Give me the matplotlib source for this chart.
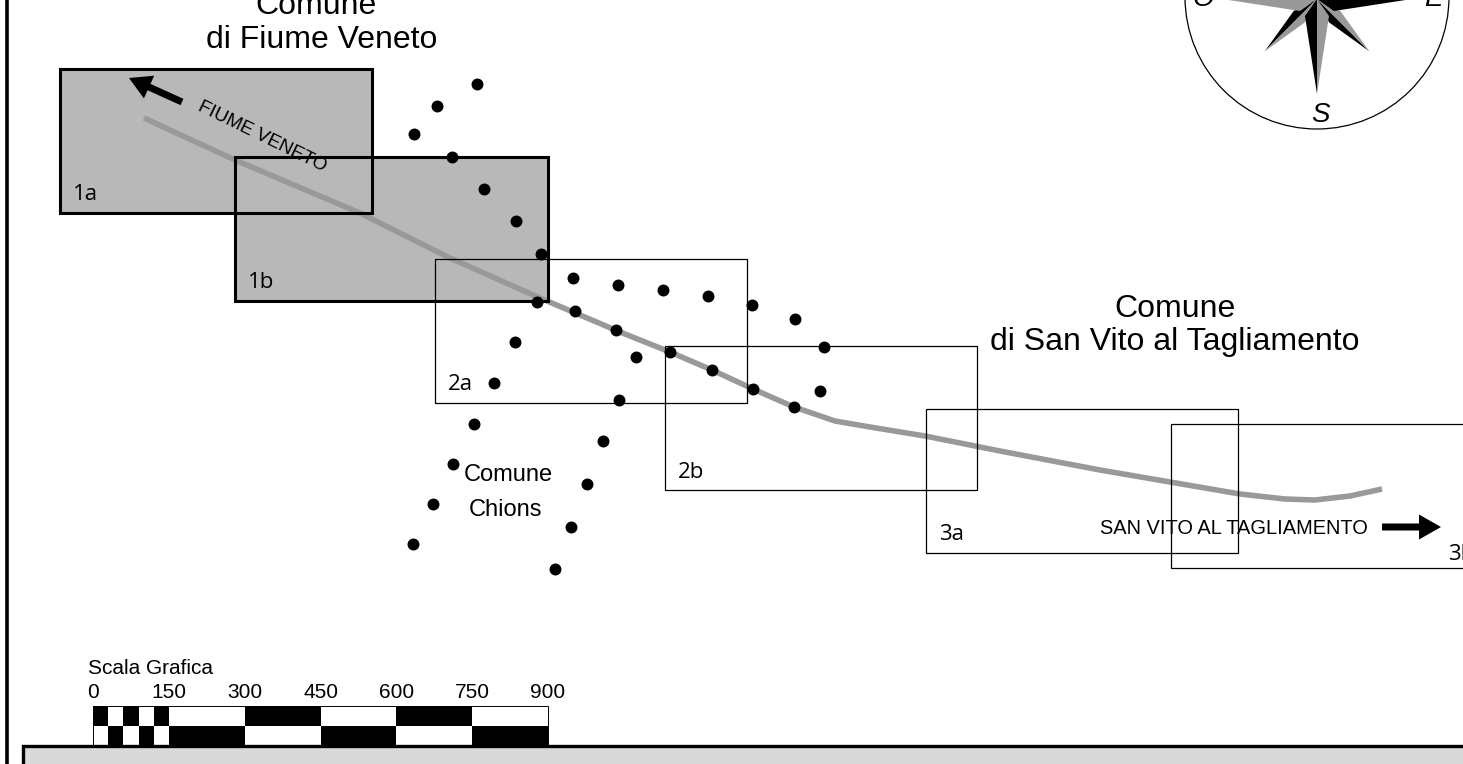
import matplotlib
matplotlib.use("Agg")
import matplotlib.pyplot as plt
from matplotlib.patches import Rectangle, Circle, Polygon
import numpy as np

plt.rcParams['font.family'] = ['Liberation Sans', 'DejaVu Sans']

# Coordinates (pixels, y downwards)
zone_names = ["1a", "1b", "2a", "2b", "3a", "3b"]
zone_x = [60, 235, 435, 665, 926, 1171]
zone_y = [69, 157, 259, 346, 409, 424]
zone_w = [312, 313, 312, 312, 312, 312]
zone_h = [144, 144, 144, 144, 144, 144]
zone_label_x = [73, 248, 448, 678, 939, 1448]
zone_label_y = [194, 282, 384, 472, 534, 554]
zone_filled = [True, True, False, False, False, False]

road_x = [144, 235, 360, 450, 540, 620, 670, 712, 753, 794, 835, 870, 925, 1000, 1100, 1170, 1240, 1285, 1315, 1350, 1382]
road_y = [118, 160, 213, 258, 298, 332, 352, 370, 389, 407, 421, 427, 436, 451, 470, 482, 494, 499, 500, 496, 489]

dots_x = [477, 437, 414, 452, 484, 516, 541, 537, 515, 494, 474, 453, 433, 413,
          573, 618, 663, 708, 752, 795, 824, 820, 794, 753, 712, 670, 616, 575,
          636, 619, 603, 587, 571, 555]
dots_y = [84, 106, 134, 157, 189, 221, 254, 302, 342, 383, 424, 464, 504, 544,
          278, 285, 290, 296, 305, 319, 347, 391, 407, 389, 370, 352, 330, 311,
          357, 400, 441, 484, 527, 569]

scale_ticks = [0, 150, 300, 450, 600, 750, 900]
scale_edges = [0, 30, 60, 90, 120, 150, 300, 450, 600, 750, 900]

fig = plt.figure(figsize=(14.63, 7.64), dpi=100)
ax = fig.add_axes([0, 0, 1, 1])
ax.set_xlim(0, 1463)
ax.set_ylim(764, 0)
ax.axis("off")

# zones
for i in range(6):
    if zone_filled[i]:
        ax.add_patch(Rectangle((zone_x[i], zone_y[i]), zone_w[i], zone_h[i], fc="#b8b8b8", ec="none", zorder=1))
ax.plot(road_x, road_y, color="#999999", lw=4, solid_capstyle="butt", zorder=2)
for i in range(6):
    lw = 2.2 if zone_filled[i] else 0.9
    ax.add_patch(Rectangle((zone_x[i], zone_y[i]), zone_w[i], zone_h[i], fc="none", ec="black", lw=lw, zorder=3))
    ax.text(zone_label_x[i], zone_label_y[i], zone_names[i], fontsize=16,
            family=["Liberation Sans Narrow", "Open Sans"], va="center", ha="left", zorder=5)

ax.plot(dots_x, dots_y, "o", color="black", ms=8.6, mew=0, zorder=4)

# place names
ax.text(316, 6, "Comune", fontsize=23, ha="center", va="center")
ax.text(322, 40, "di Fiume Veneto", fontsize=23, ha="center", va="center")
ax.text(1175, 309, "Comune", fontsize=23, ha="center", va="center")
ax.text(1175, 342, "di San Vito al Tagliamento", fontsize=23, ha="center", va="center")
ax.text(508, 475, "Comune", fontsize=17, ha="center", va="center", zorder=6)
ax.text(505, 510, "Chions", fontsize=17, ha="center", va="center", zorder=6)

ax.text(262, 137, "FIUME VENETO", fontsize=13.6, rotation=-26, rotation_mode="anchor", ha="center", va="center", zorder=6)
ax.text(1234, 528, "SAN VITO AL TAGLIAMENTO", fontsize=14.4, ha="center", va="center", zorder=6)
ax.arrow(182, 102, -53, -24, width=7, head_width=25, head_length=22, length_includes_head=True, fc="black", ec="none", zorder=6)
ax.arrow(1382, 527, 59, 0, width=7, head_width=25, head_length=22, length_includes_head=True, fc="black", ec="none", zorder=6)

# compass
ax.add_patch(Circle((1317, -3), 132, fc="white", ec="black", lw=0.9, zorder=2))
cx, cy = 1317, -1
for angles, tip, base, halfw in [((45, 135, 225, 315), 74, 25, 8), ((0, 90, 180, 270), 95, 17, 12)]:
    for a in angles:
        t = np.radians(a)
        d = np.array([np.cos(t), np.sin(t)])      # y is down, so angle grows clockwise
        n = np.array([-np.sin(t), np.cos(t)])
        c = np.array([cx, cy])
        p_tip = c + d * tip
        ax.add_patch(Polygon([c, p_tip, c + d * base + n * halfw], fc="black", ec="none", zorder=3))
        ax.add_patch(Polygon([c, p_tip, c + d * base - n * halfw], fc="#999999", ec="none", zorder=3))
ax.text(1320, 115, "S", fontsize=20, style="italic", ha="center", va="center")
ax.text(1203, -1, "O", fontsize=20, style="italic", ha="center", va="center")
ax.text(1433, -1, "E", fontsize=20, style="italic", ha="center", va="center")

# scale bar
sx0, sx1 = 93, 548
k = (sx1 - sx0) / 900
for i in range(len(scale_edges) - 1):
    x = sx0 + scale_edges[i] * k
    w = (scale_edges[i + 1] - scale_edges[i]) * k
    ax.add_patch(Rectangle((x, 706), w, 19.5, fc="black" if i % 2 == 0 else "white", ec="none"))
    ax.add_patch(Rectangle((x, 725.5), w, 19.5, fc="white" if i % 2 == 0 else "black", ec="none"))
ax.add_patch(Rectangle((sx0, 706), sx1 - sx0, 39, fc="none", ec="black", lw=0.7))
for v in scale_ticks:
    ax.text(sx0 + v * k, 693, str(v), fontsize=15, ha="center", va="center")
ax.text(88, 668, "Scala Grafica", fontsize=15, ha="left", va="center")

# page frame
ax.plot([6.5, 6.5], [0, 764], color="black", lw=2.6)
ax.add_patch(Rectangle((23, 746), 1500, 40, fc="#d9d9d9", ec="black", lw=2.4, zorder=5))

fig.savefig("out.png", dpi=100)
